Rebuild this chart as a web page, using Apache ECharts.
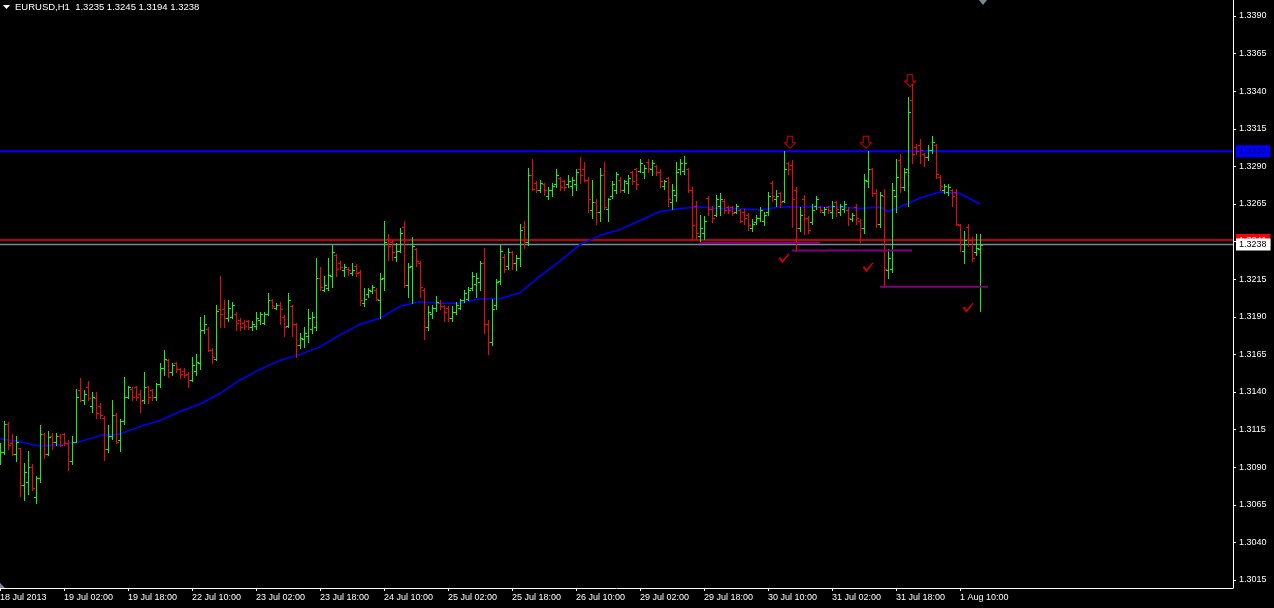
<!DOCTYPE html>
<html><head><meta charset="utf-8">
<script src="https://cdn.jsdelivr.net/npm/echarts@6/dist/echarts.min.js"></script>
<style>html,body{margin:0;padding:0;background:#000}#c{width:1274px;height:608px}</style>
</head><body><div id="c"></div>
<script>
const symbolName = 'EURUSD,H1';
const tickLabels = ['18 Jul 2013','19 Jul 02:00','19 Jul 18:00','22 Jul 10:00','23 Jul 02:00','23 Jul 18:00','24 Jul 10:00','25 Jul 02:00','25 Jul 18:00','26 Jul 10:00','29 Jul 02:00','29 Jul 18:00','30 Jul 10:00','31 Jul 02:00','31 Jul 18:00','1 Aug 10:00'];
const barsPerTick = 16;
const opens = [
1.3096,1.3100,1.3119,1.3106,1.3099,1.3103,1.3078,1.3080,1.3090,1.3070,
1.3083,1.3112,1.3099,1.3111,1.3107,1.3111,1.3112,1.3106,1.3094,1.3107,
1.3141,1.3135,1.3143,1.3131,1.3136,1.3131,1.3123,1.3102,1.3111,1.3125,
1.3108,1.3121,1.3137,1.3142,1.3143,1.3139,1.3135,1.3143,1.3141,1.3137,
1.3145,1.3156,1.3161,1.3153,1.3159,1.3155,1.3154,1.3152,1.3148,1.3154,
1.3159,1.3181,1.3182,1.3168,1.3162,1.3195,1.3195,1.3189,1.3190,1.3192,
1.3188,1.3186,1.3187,1.3183,1.3184,1.3188,1.3186,1.3192,1.3201,1.3196,
1.3198,1.3190,1.3184,1.3197,1.3185,1.3171,1.3175,1.3177,1.3182,1.3183,
1.3216,1.3208,1.3209,1.3217,1.3231,1.3226,1.3221,1.3222,1.3219,1.3224,
1.3220,1.3199,1.3205,1.3207,1.3208,1.3201,1.3216,1.3242,1.3240,1.3230,
1.3234,1.3250,1.3211,1.3224,1.3235,1.3226,1.3208,1.3183,1.3192,1.3196,
1.3199,1.3197,1.3196,1.3189,1.3193,1.3196,1.3201,1.3202,1.3209,1.3212,
1.3213,1.3226,1.3185,1.3173,1.3198,1.3214,1.3230,1.3224,1.3233,1.3226,
1.3229,1.3250,1.3240,1.3284,1.3279,1.3274,1.3278,1.3270,1.3274,1.3278,
1.3282,1.3280,1.3278,1.3277,1.3278,1.3288,1.3288,1.3281,1.3261,1.3266,
1.3260,1.3284,1.3262,1.3270,1.3274,1.3281,1.3274,1.3279,1.3286,1.3288,
1.3287,1.3286,1.3293,1.3288,1.3290,1.3286,1.3277,1.3282,1.3266,1.3271,
1.3288,1.3287,1.3288,1.3274,1.3264,1.3244,1.3246,1.3269,1.3262,1.3258,
1.3264,1.3267,1.3263,1.3263,1.3260,1.3261,1.3260,1.3258,1.3249,1.3253,
1.3256,1.3254,1.3260,1.3279,1.3268,1.3272,1.3267,1.3292,1.3291,1.3274,
1.3249,1.3268,1.3256,1.3253,1.3264,1.3263,1.3260,1.3263,1.3260,1.3266,
1.3260,1.3262,1.3261,1.3255,1.3263,1.3254,1.3249,1.3280,1.3288,1.3272,
1.3252,1.3270,1.3221,1.3222,1.3270,1.3294,1.3276,1.3288,1.3334,1.3303,
1.3304,1.3298,1.3296,1.3301,1.3304,1.3283,1.3274,1.3273,1.3274,1.3273,
1.3251,1.3234,1.3250,1.3241,1.3233,1.3235];
const highs = [
1.3106,1.3121,1.3120,1.3112,1.3111,1.3103,1.3093,1.3101,1.3092,1.3084,
1.3118,1.3113,1.3114,1.3113,1.3113,1.3112,1.3113,1.3108,1.3111,1.3142,
1.3149,1.3141,1.3147,1.3140,1.3140,1.3133,1.3124,1.3118,1.3135,1.3126,
1.3122,1.3150,1.3144,1.3143,1.3144,1.3141,1.3153,1.3144,1.3142,1.3146,
1.3159,1.3168,1.3162,1.3159,1.3160,1.3156,1.3156,1.3153,1.3163,1.3165,
1.3190,1.3191,1.3183,1.3169,1.3198,1.3217,1.3201,1.3201,1.3200,1.3193,
1.3189,1.3188,1.3188,1.3187,1.3193,1.3193,1.3193,1.3206,1.3202,1.3199,
1.3200,1.3191,1.3206,1.3198,1.3186,1.3179,1.3183,1.3195,1.3193,1.3229,
1.3223,1.3217,1.3229,1.3238,1.3232,1.3227,1.3225,1.3223,1.3226,1.3225,
1.3221,1.3209,1.3209,1.3211,1.3209,1.3219,1.3254,1.3245,1.3241,1.3239,
1.3249,1.3254,1.3226,1.3243,1.3236,1.3227,1.3209,1.3197,1.3198,1.3204,
1.3201,1.3198,1.3197,1.3197,1.3200,1.3202,1.3208,1.3210,1.3220,1.3219,
1.3227,1.3236,1.3188,1.3202,1.3215,1.3238,1.3232,1.3236,1.3234,1.3231,
1.3252,1.3254,1.3289,1.3295,1.3280,1.3281,1.3279,1.3276,1.3279,1.3288,
1.3283,1.3281,1.3284,1.3283,1.3288,1.3296,1.3293,1.3283,1.3281,1.3268,
1.3289,1.3293,1.3269,1.3280,1.3286,1.3283,1.3281,1.3284,1.3287,1.3289,
1.3295,1.3291,1.3295,1.3294,1.3291,1.3288,1.3281,1.3283,1.3278,1.3293,
1.3295,1.3297,1.3289,1.3276,1.3267,1.3258,1.3257,1.3270,1.3264,1.3271,
1.3272,1.3268,1.3264,1.3264,1.3265,1.3262,1.3262,1.3259,1.3255,1.3258,
1.3263,1.3260,1.3273,1.3280,1.3274,1.3273,1.3300,1.3293,1.3294,1.3276,
1.3263,1.3271,1.3257,1.3265,1.3270,1.3264,1.3263,1.3264,1.3267,1.3267,
1.3265,1.3267,1.3263,1.3259,1.3265,1.3255,1.3285,1.3300,1.3289,1.3275,
1.3273,1.3275,1.3235,1.3279,1.3295,1.3298,1.3289,1.3336,1.3345,1.3305,
1.3308,1.3299,1.3304,1.3310,1.3305,1.3284,1.3278,1.3278,1.3275,1.3275,
1.3252,1.3247,1.3252,1.3243,1.3245,1.3245];
const lows = [
1.3092,1.3099,1.3102,1.3098,1.3094,1.3071,1.3068,1.3072,1.3075,1.3066,
1.3080,1.3096,1.3098,1.3102,1.3105,1.3104,1.3105,1.3088,1.3092,1.3107,
1.3134,1.3132,1.3135,1.3127,1.3123,1.3123,1.3095,1.3100,1.3109,1.3106,
1.3101,1.3119,1.3136,1.3135,1.3135,1.3127,1.3133,1.3133,1.3135,1.3135,
1.3143,1.3151,1.3150,1.3151,1.3153,1.3149,1.3150,1.3143,1.3147,1.3151,
1.3155,1.3179,1.3167,1.3159,1.3161,1.3183,1.3183,1.3187,1.3189,1.3181,
1.3181,1.3182,1.3182,1.3181,1.3182,1.3185,1.3185,1.3191,1.3196,1.3195,
1.3185,1.3177,1.3183,1.3177,1.3163,1.3169,1.3170,1.3173,1.3179,1.3181,
1.3208,1.3207,1.3208,1.3210,1.3217,1.3222,1.3217,1.3218,1.3218,1.3217,
1.3198,1.3197,1.3203,1.3206,1.3201,1.3189,1.3208,1.3228,1.3228,1.3227,
1.3233,1.3210,1.3203,1.3199,1.3224,1.3203,1.3175,1.3181,1.3189,1.3194,
1.3195,1.3187,1.3187,1.3187,1.3192,1.3195,1.3200,1.3201,1.3208,1.3203,
1.3208,1.3179,1.3165,1.3171,1.3195,1.3212,1.3220,1.3222,1.3222,1.3221,
1.3224,1.3236,1.3238,1.3274,1.3273,1.3273,1.3271,1.3268,1.3270,1.3276,
1.3274,1.3274,1.3276,1.3271,1.3274,1.3279,1.3280,1.3260,1.3256,1.3252,
1.3254,1.3262,1.3254,1.3269,1.3272,1.3273,1.3273,1.3272,1.3278,1.3275,
1.3286,1.3282,1.3286,1.3284,1.3284,1.3276,1.3275,1.3264,1.3262,1.3267,
1.3285,1.3285,1.3273,1.3242,1.3242,1.3239,1.3242,1.3258,1.3253,1.3257,
1.3258,1.3259,1.3259,1.3258,1.3259,1.3253,1.3252,1.3248,1.3247,1.3252,
1.3254,1.3251,1.3258,1.3267,1.3264,1.3263,1.3266,1.3285,1.3250,1.3234,
1.3247,1.3245,1.3246,1.3252,1.3262,1.3260,1.3258,1.3259,1.3256,1.3257,
1.3258,1.3260,1.3251,1.3254,1.3252,1.3240,1.3246,1.3276,1.3270,1.3250,
1.3250,1.3210,1.3216,1.3220,1.3260,1.3273,1.3274,1.3264,1.3292,1.3298,
1.3292,1.3290,1.3294,1.3299,1.3282,1.3274,1.3272,1.3271,1.3264,1.3251,
1.3234,1.3226,1.3237,1.3227,1.3231,1.3194];
const closes = [
1.3100,1.3119,1.3105,1.3099,1.3107,1.3078,1.3087,1.3090,1.3076,1.3083,
1.3112,1.3099,1.3110,1.3107,1.3111,1.3105,1.3106,1.3094,1.3107,1.3137,
1.3135,1.3139,1.3136,1.3137,1.3126,1.3125,1.3102,1.3111,1.3125,1.3107,
1.3121,1.3137,1.3143,1.3137,1.3137,1.3134,1.3143,1.3137,1.3137,1.3145,
1.3156,1.3162,1.3153,1.3158,1.3155,1.3152,1.3151,1.3148,1.3158,1.3160,
1.3181,1.3185,1.3168,1.3163,1.3194,1.3192,1.3189,1.3196,1.3198,1.3186,
1.3183,1.3184,1.3183,1.3185,1.3189,1.3192,1.3192,1.3201,1.3197,1.3198,
1.3195,1.3183,1.3201,1.3185,1.3171,1.3176,1.3179,1.3189,1.3190,1.3216,
1.3210,1.3211,1.3218,1.3233,1.3222,1.3223,1.3223,1.3221,1.3221,1.3219,
1.3201,1.3202,1.3208,1.3210,1.3202,1.3215,1.3240,1.3237,1.3233,1.3234,
1.3246,1.3211,1.3223,1.3237,1.3227,1.3210,1.3183,1.3193,1.3196,1.3200,
1.3197,1.3193,1.3189,1.3193,1.3198,1.3201,1.3206,1.3208,1.3217,1.3216,
1.3226,1.3185,1.3173,1.3195,1.3213,1.3234,1.3222,1.3233,1.3226,1.3229,
1.3248,1.3240,1.3284,1.3275,1.3274,1.3279,1.3274,1.3274,1.3277,1.3284,
1.3276,1.3276,1.3280,1.3281,1.3286,1.3284,1.3281,1.3268,1.3266,1.3260,
1.3284,1.3263,1.3268,1.3278,1.3285,1.3274,1.3280,1.3282,1.3280,1.3278,
1.3292,1.3289,1.3289,1.3292,1.3286,1.3280,1.3280,1.3268,1.3274,1.3286,
1.3292,1.3292,1.3274,1.3251,1.3246,1.3249,1.3254,1.3262,1.3256,1.3268,
1.3268,1.3261,1.3261,1.3259,1.3264,1.3254,1.3256,1.3251,1.3252,1.3256,
1.3261,1.3258,1.3270,1.3270,1.3270,1.3266,1.3288,1.3288,1.3268,1.3249,
1.3258,1.3256,1.3248,1.3261,1.3268,1.3261,1.3262,1.3261,1.3264,1.3262,
1.3264,1.3265,1.3256,1.3258,1.3256,1.3249,1.3281,1.3288,1.3272,1.3252,
1.3271,1.3222,1.3229,1.3274,1.3283,1.3276,1.3286,1.3326,1.3298,1.3300,
1.3301,1.3296,1.3301,1.3306,1.3285,1.3277,1.3277,1.3276,1.3270,1.3252,
1.3241,1.3241,1.3241,1.3229,1.3236,1.3238];
const maIndex = [0,5,10,15,20,25,30,35,40,45,50,55,60,65,70,75,80,85,90,95,100,105,110,115,120,125,130,135,140,145,150,155,160,165,170,175,180,185,190,195,200,205,210,215,220,222,225,230,235,240,245];
const maValues = [1.3109,1.3107,1.3104,1.3105,1.3107,1.3111,1.3112,1.3117,1.3121,1.3127,1.3132,1.3139,1.3148,1.3155,1.3161,1.3165,1.3170,1.3178,1.3185,1.3189,1.3197,1.3200,1.3199,1.3199,1.3202,1.3202,1.3206,1.3217,1.3227,1.3238,1.3244,1.3248,1.3254,1.3260,1.3262,1.3263,1.3262,1.3262,1.3261,1.3263,1.3263,1.3263,1.3263,1.3262,1.3263,1.3260,1.3263,1.3269,1.3273,1.3272,1.3265];
const resistanceLevel = 1.3300;
const redLevel = 1.3241;
const bidPrice = 1.3238;
const segStart = [175, 198, 220];
const segEnd = [205, 228, 247];
const segPrice = [1.3239, 1.3234, 1.3210];
const arrowIndex = [197.5, 216.5, 227.5];
const arrowPrice = [1.3306, 1.3306, 1.3347];
const checkIndex = [196, 217, 242];
const checkPrice = [1.3229, 1.3223, 1.3196];
const yLabelValues = [1.3015,1.3040,1.3065,1.3090,1.3115,1.3140,1.3165,1.3190,1.3215,1.3265,1.3290,1.3315,1.3340,1.3365,1.3390];
const yTickValues = [1.3015,1.3040,1.3065,1.3090,1.3115,1.3140,1.3165,1.3190,1.3215,1.3240,1.3265,1.3290,1.3315,1.3340,1.3365,1.3390];

const FONT = 'Liberation Sans';
const X_MAX = 308.25;
const ohlc = opens.map((o, i) => [i, o, highs[i], lows[i], closes[i]]);
const tickPos = tickLabels.map((_, k) => k * barsPerTick);
const last = opens.length - 1;

function renderBar(params, api) {
  const i = api.value(0), o = api.value(1), h = api.value(2), l = api.value(3), c = api.value(4);
  const pH = api.coord([i, h]), pL = api.coord([i, l]), pO = api.coord([i, o]), pC = api.coord([i, c]);
  const x = Math.round(pH[0]);
  const col = c >= o ? '#00ff00' : '#ff0000';
  const yH = Math.round(pH[1]), yL = Math.round(pL[1]);
  const yO = Math.round(pO[1]), yC = Math.round(pC[1]);
  return {type: 'group', children: [
    {type: 'rect', shape: {x: x, y: yH, width: 1, height: Math.max(1, yL - yH + 1)}, style: {fill: col, stroke: null}},
    {type: 'rect', shape: {x: x - 2, y: yO, width: 2, height: 1}, style: {fill: col, stroke: null}},
    {type: 'rect', shape: {x: x + 1, y: yC, width: 2, height: 1}, style: {fill: col, stroke: null}}
  ]};
}

function hLine(value, color, width, labelBg, labelColor, z) {
  return {
    type: 'line', z: z, silent: true, showSymbol: false, clip: false,
    data: [[0, value], [X_MAX, value]],
    lineStyle: {color: color, width: width},
    endLabel: {show: true, distance: 3, formatter: () => value.toFixed(4),
      backgroundColor: labelBg, color: labelColor, fontSize: 9, fontFamily: FONT, padding: [2, 4, 1, 3]}
  };
}

const chart = echarts.init(document.getElementById('c'), null, {renderer: 'canvas'});
chart.setOption({
  backgroundColor: '#000',
  animation: false,
  grid: {left: 0, right: 41, top: 0, bottom: 20, containLabel: false, outerBoundsMode: 'none'},
  xAxis: {
    type: 'value', min: 0, max: X_MAX,
    axisLine: {show: true, onZero: false, lineStyle: {color: '#ffffff', width: 1}},
    axisTick: {show: true, customValues: tickPos, length: 3, lineStyle: {color: '#ffffff'}},
    axisLabel: {show: true, customValues: tickPos, formatter: v => tickLabels[Math.round(v / barsPerTick)] || '',
      align: 'left', color: '#ffffff', fontSize: 9, fontFamily: FONT, margin: 5},
    splitLine: {show: false}
  },
  yAxis: {
    type: 'value', position: 'right', min: 1.300968, max: 1.340064,
    axisLine: {show: true, onZero: false, lineStyle: {color: '#ffffff', width: 1}},
    axisTick: {show: true, customValues: yTickValues, length: 3, lineStyle: {color: '#ffffff'}},
    axisLabel: {show: true, customValues: yLabelValues, formatter: v => v.toFixed(4),
      color: '#ffffff', fontSize: 9, fontFamily: FONT, margin: 6},
    splitLine: {show: false}
  },
  series: [
    hLine(resistanceLevel, '#0000ff', 2, '#0000ff', '#000070', 3),
    hLine(redLevel, '#ff0000', 1.5, '#ff0000', '#ffffff', 3),
    hLine(bidPrice, '#778899', 1.5, '#ffffff', '#000000', 4),
    {
      type: 'line', z: 5, silent: true, showSymbol: false,
      data: maIndex.map((x, k) => [x, maValues[k]]),
      lineStyle: {color: '#0000ff', width: 1.5}
    },
    {
      type: 'custom', z: 6, silent: true, renderItem: renderBar,
      encode: {x: 0, y: [1, 2, 3, 4]}, data: ohlc, clip: true
    },
    {
      type: 'line', z: 7, silent: true, showSymbol: false,
      data: segPrice.flatMap((p, k) => [[segStart[k], p], [segEnd[k], p], null]),
      connectNulls: false,
      lineStyle: {color: '#800080', width: 2}
    },
    {
      type: 'scatter', z: 8, silent: true,
      symbol: 'path://M3,0L9,0L9,7L12,7L6,13L0,7L3,7Z', symbolSize: [11, 12],
      itemStyle: {color: '#000000', borderColor: '#ff0000', borderWidth: 1},
      data: arrowIndex.map((x, k) => [x, arrowPrice[k]])
    },
    {
      type: 'scatter', z: 8, silent: true,
      symbol: 'path://M0,5L2,4L4,7L10,0L11,1L4,10Z', symbolSize: [11, 10],
      itemStyle: {color: '#ff0000'},
      data: checkIndex.map((x, k) => [x, checkPrice[k]])
    }
  ],
  graphic: [
    {type: 'polygon', shape: {points: [[3, 5], [10, 5], [6.5, 9]]}, style: {fill: '#ffffff'}},
    {type: 'text', left: 15, top: 2, style: {
      text: symbolName + '  ' + [opens[last], highs[last], lows[last], closes[last]].map(v => v.toFixed(4)).join(' '),
      fill: '#ffffff', font: '9.5px "Liberation Sans"'}},
    {type: 'polygon', shape: {points: [[979, 0], [987, 0], [983, 5]]}, style: {fill: '#778899'}},
    {type: 'polygon', shape: {points: [[0, 583], [5, 588], [0, 588]]}, style: {fill: '#778899'}}
  ]
});
</script></body></html>
